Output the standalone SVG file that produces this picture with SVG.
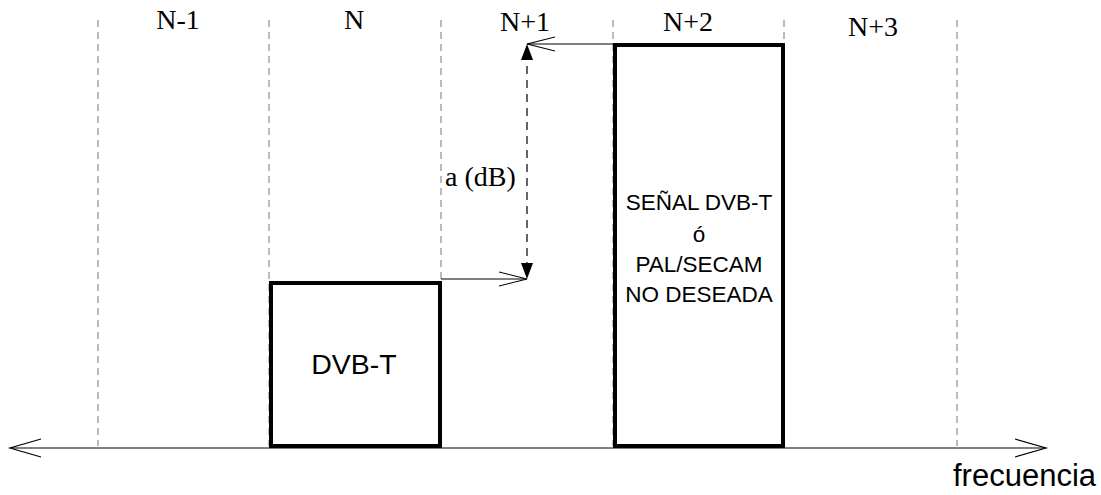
<svg xmlns="http://www.w3.org/2000/svg" width="1101" height="495" viewBox="0 0 1101 495">
<defs>
<style>
.grid{stroke:#777;stroke-width:1;stroke-dasharray:7,5;fill:none}
.ln{stroke:#000;stroke-width:1.2;fill:none}
.box{stroke:#000;stroke-width:4;fill:#fff}
.ser{font-family:"Liberation Serif",serif;font-size:28px;fill:#000}
.san{font-family:"Liberation Sans",sans-serif;fill:#000}
</style>
<marker id="open2" markerWidth="30" markerHeight="16" refX="28" refY="8" orient="auto" markerUnits="userSpaceOnUse">
<path d="M0,1 L28,8 L0,15" fill="none" stroke="#000" stroke-width="1.2"/>
</marker>
</defs>
<g id="grid">
<line class="grid" x1="98" y1="20" x2="98" y2="446"/>
<line class="grid" x1="269" y1="20" x2="269" y2="446"/>
<line class="grid" x1="441" y1="20" x2="441" y2="446"/>
<line class="grid" x1="613" y1="20" x2="613" y2="446"/>
<line class="grid" x1="784" y1="20" x2="784" y2="446"/>
<line class="grid" x1="957" y1="20" x2="957" y2="446"/>
</g>
<g id="labels">
<text class="ser" x="178" y="29" text-anchor="middle">N-1</text>
<text class="ser" x="354" y="29" text-anchor="middle">N</text>
<text class="ser" x="525" y="31" text-anchor="middle">N+1</text>
<text class="ser" x="688" y="31" text-anchor="middle">N+2</text>
<text class="ser" x="873" y="36" text-anchor="middle">N+3</text>
<text class="ser" x="445" y="186" font-size="27">a (dB)</text>
</g>
<g id="dvbt">
<rect class="box" x="271" y="283" width="169" height="163"/>
<text class="san" x="354" y="374" font-size="28.5" text-anchor="middle">DVB-T</text>
</g>
<g id="interferer">
<rect class="box" x="615" y="45" width="168" height="401"/>
<g class="san" font-size="22.5" text-anchor="middle">
<text x="699" y="210">SEÑAL DVB-T</text>
<text x="699" y="242">ó</text>
<text x="699" y="272">PAL/SECAM</text>
<text x="699" y="302">NO DESEADA</text>
</g>
</g>
<g id="connectors">
<line class="ln" x1="10" y1="448" x2="1046" y2="448"/>
<path class="ln" d="M41,439 L10,448 L41,457"/>
<path class="ln" d="M1015,439 L1046,448 L1015,457"/>
<line class="ln" x1="783" y1="44" x2="527" y2="44" marker-end="url(#open2)"/>
<line class="ln" x1="441" y1="279" x2="527" y2="279" marker-end="url(#open2)"/>
<line x1="527" y1="270" x2="527" y2="55" stroke="#000" stroke-width="1.2" stroke-dasharray="8,6"/>
<path d="M527,44 L521,60 L533,60 Z" fill="#000"/>
<path d="M527,279 L521,263 L533,263 Z" fill="#000"/>
</g>
<g id="axis-label">
<text class="san" x="953" y="486" font-size="31">frecuencia</text>
</g>
</svg>
